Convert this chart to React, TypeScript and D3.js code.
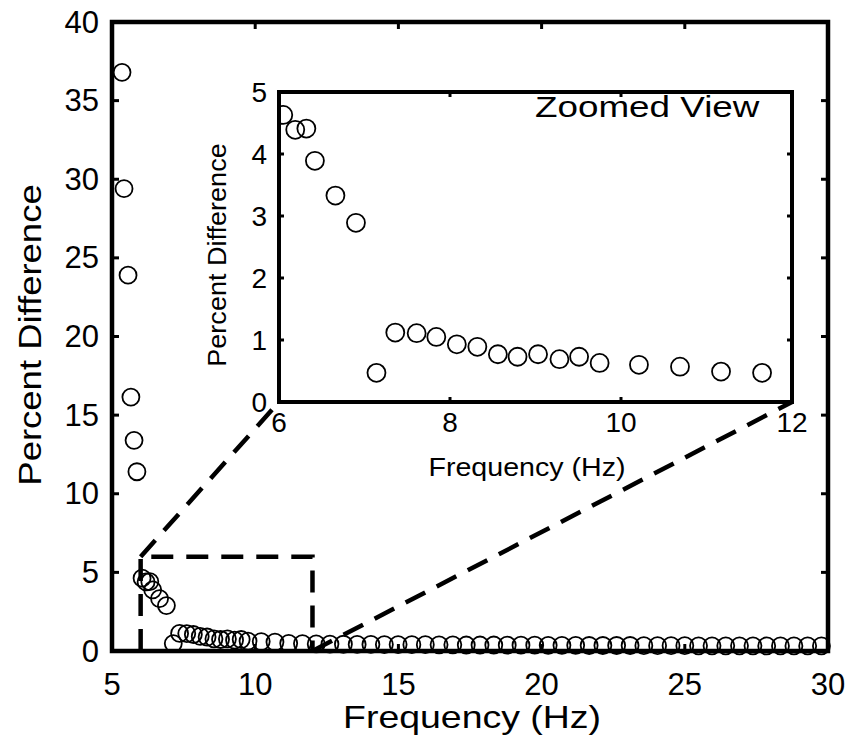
import React from "react";
import * as d3 from "d3";

// Frequency (Hz) and percent difference
const lowFreqHz = [5.35, 5.42, 5.56, 5.66, 5.77, 5.87];
const lowFreqPct = [36.8, 29.4, 23.9, 16.15, 13.4, 11.4];

const midFreqHz = [
  6.05, 6.19, 6.32, 6.42, 6.66, 6.9, 7.14, 7.36, 7.61, 7.84, 8.08, 8.32,
  8.56, 8.79, 9.03, 9.28, 9.51, 9.75, 10.21, 10.69, 11.17, 11.65,
];
const midFreqPct = [
  4.63, 4.39, 4.41, 3.89, 3.33, 2.89, 0.47, 1.12, 1.11, 1.05, 0.93, 0.89,
  0.77, 0.73, 0.77, 0.69, 0.73, 0.63, 0.6, 0.57, 0.49, 0.47,
];

const highFreqHz = [
  12.13, 12.61, 13.08, 13.56, 14.04, 14.51, 14.99, 15.47, 15.94, 16.42,
  16.9, 17.37, 17.85, 18.33, 18.8, 19.28, 19.76, 20.23, 20.71, 21.19, 21.66,
  22.14, 22.62, 23.09, 23.57, 24.05, 24.52, 25.0, 25.48, 25.95, 26.43, 26.91,
  27.38, 27.86, 28.34, 28.81, 29.29, 29.77,
];
const highFreqPct = [
  0.45, 0.44, 0.43, 0.42, 0.42, 0.41, 0.41, 0.4, 0.4, 0.39, 0.39, 0.38, 0.38,
  0.38, 0.37, 0.37, 0.37, 0.36, 0.36, 0.36, 0.35, 0.35, 0.35, 0.35, 0.34,
  0.34, 0.34, 0.34, 0.33, 0.33, 0.33, 0.33, 0.33, 0.32, 0.32, 0.32, 0.32,
  0.32,
];

const mainXTicks = [5, 10, 15, 20, 25, 30];
const mainYTicks = [0, 5, 10, 15, 20, 25, 30, 35, 40];
const insetXTicks = [6, 8, 10, 12];
const insetYTicks = [0, 1, 2, 3, 4, 5];

// zoom window shown in the inset
const zoomX = [6, 12];
const zoomY = [0, 6];

const FONT = "'Liberation Sans', Arial, Helvetica, sans-serif";

type Pt = { f: number; p: number };
const points: Pt[] = [
  ...lowFreqHz.map((f, i) => ({ f, p: lowFreqPct[i] })),
  ...midFreqHz.map((f, i) => ({ f, p: midFreqPct[i] })),
  ...highFreqHz.map((f, i) => ({ f, p: highFreqPct[i] })),
];

// Text drawn with a slightly widened face
function Label(props: {
  x: number;
  y: number;
  size: number;
  sx?: number;
  rotate?: number;
  anchor?: "start" | "middle" | "end";
  children: React.ReactNode;
}) {
  const { x, y, size, sx = 1, rotate = 0, anchor = "middle", children } = props;
  return (
    <text
      transform={`translate(${x},${y}) rotate(${rotate}) scale(${sx},1)`}
      fontFamily={FONT}
      fontSize={size}
      textAnchor={anchor}
      fill="#000"
    >
      {children}
    </text>
  );
}

export default function App() {
  const W = 851;
  const H = 742;

  const x = d3.scaleLinear().domain([5, 30]).range([112, 828]);
  const y = d3.scaleLinear().domain([0, 40]).range([651, 22]);

  const ix = d3.scaleLinear().domain([6, 12]).range([279, 792]);
  const iy = d3.scaleLinear().domain([0, 5]).range([402, 92]);

  const dash = "22,13";
  const mainTick = 7;
  const insetTick = 5;

  const [x0, x1] = x.range();
  const [y0, y1] = y.range();
  const [ix0, ix1] = ix.range();
  const [iy0, iy1] = iy.range();

  return (
    <svg
      width={W}
      height={H}
      viewBox={`0 0 ${W} ${H}`}
      style={{ position: "absolute", left: 0, top: 0, background: "#fff" }}
    >
      <defs>
        <clipPath id="insetClip">
          <rect x={ix0} y={iy1} width={ix1 - ix0} height={iy0 - iy1} />
        </clipPath>
      </defs>
      <rect x={0} y={0} width={W} height={H} fill="#fff" />

      {/* main scatter */}
      <g>
        {points.map((d, i) => (
          <circle
            key={i}
            cx={x(d.f)}
            cy={y(d.p)}
            r={8.5}
            fill="none"
            stroke="#000"
            strokeWidth={1.8}
          />
        ))}
      </g>

      {/* main ticks (inside, all four sides) */}
      <g stroke="#000" strokeWidth={3}>
        {mainXTicks.map((t) => (
          <g key={"mx" + t}>
            <line x1={x(t)} x2={x(t)} y1={y0} y2={y0 - mainTick} />
            <line x1={x(t)} x2={x(t)} y1={y1} y2={y1 + mainTick} />
          </g>
        ))}
        {mainYTicks.map((t) => (
          <g key={"my" + t}>
            <line x1={x0} x2={x0 + mainTick} y1={y(t)} y2={y(t)} />
            <line x1={x1} x2={x1 - mainTick} y1={y(t)} y2={y(t)} />
          </g>
        ))}
      </g>
      <rect
        x={x0}
        y={y1}
        width={x1 - x0}
        height={y0 - y1}
        fill="none"
        stroke="#000"
        strokeWidth={4.5}
      />

      {/* main tick labels */}
      <g fontFamily={FONT} fontSize={31} fill="#000">
        {mainXTicks.map((t) => (
          <text key={"lx" + t} x={x(t)} y={y0 + 44} textAnchor="middle">
            {t}
          </text>
        ))}
        {mainYTicks.map((t) => (
          <text
            key={"ly" + t}
            x={x0 - 13}
            y={y(t)}
            textAnchor="end"
            dominantBaseline="central"
          >
            {t}
          </text>
        ))}
      </g>
      <Label x={472} y={728} size={32} sx={1.17}>
        Frequency (Hz)
      </Label>
      <Label x={41} y={335} size={32} sx={1.14} rotate={-90}>
        Percent Difference
      </Label>

      {/* zoom window and connectors */}
      <g
        stroke="#000"
        strokeWidth={4.5}
        strokeDasharray={dash}
        fill="none"
      >
        <polyline
          points={[
            [x(zoomX[0]), y(zoomY[0])],
            [x(zoomX[0]), y(zoomY[1])],
            [x(zoomX[1]), y(zoomY[1])],
            [x(zoomX[1]), y(zoomY[0])],
          ]
            .map((p) => p.join(","))
            .join(" ")}
        />
        <line x1={x(zoomX[0])} y1={y(zoomY[1])} x2={ix0} y2={iy0} />
        <line x1={x(zoomX[1])} y1={y(zoomY[0])} x2={ix1} y2={iy0} />
      </g>

      {/* inset */}
      <rect
        x={ix0}
        y={iy1}
        width={ix1 - ix0}
        height={iy0 - iy1}
        fill="#fff"
      />
      <g clipPath="url(#insetClip)">
        {points.map((d, i) => (
          <circle
            key={"i" + i}
            cx={ix(d.f)}
            cy={iy(d.p)}
            r={9}
            fill="none"
            stroke="#000"
            strokeWidth={1.8}
          />
        ))}
      </g>
      <g stroke="#000" strokeWidth={3}>
        {insetXTicks.map((t) => (
          <g key={"ix" + t}>
            <line x1={ix(t)} x2={ix(t)} y1={iy0} y2={iy0 - insetTick} />
            <line x1={ix(t)} x2={ix(t)} y1={iy1} y2={iy1 + insetTick} />
          </g>
        ))}
        {insetYTicks.map((t) => (
          <g key={"iy" + t}>
            <line x1={ix0} x2={ix0 + insetTick} y1={iy(t)} y2={iy(t)} />
            <line x1={ix1} x2={ix1 - insetTick} y1={iy(t)} y2={iy(t)} />
          </g>
        ))}
      </g>
      <rect
        x={ix0}
        y={iy1}
        width={ix1 - ix0}
        height={iy0 - iy1}
        fill="none"
        stroke="#000"
        strokeWidth={4}
      />
      <g fontFamily={FONT} fontSize={28} fill="#000">
        {insetXTicks.map((t) => (
          <text key={"ilx" + t} x={ix(t)} y={iy0 + 30} textAnchor="middle">
            {t}
          </text>
        ))}
        {insetYTicks.map((t) => (
          <text
            key={"ily" + t}
            x={ix0 - 12}
            y={iy(t)}
            textAnchor="end"
            dominantBaseline="central"
          >
            {t}
          </text>
        ))}
      </g>
      <Label x={527} y={476} size={26} sx={1.1}>
        Frequency (Hz)
      </Label>
      <Label x={226} y={255} size={26} sx={1.04} rotate={-90}>
        Percent Difference
      </Label>
      <Label x={535} y={117} size={29} sx={1.27} anchor="start">
        Zoomed View
      </Label>
    </svg>
  );
}
